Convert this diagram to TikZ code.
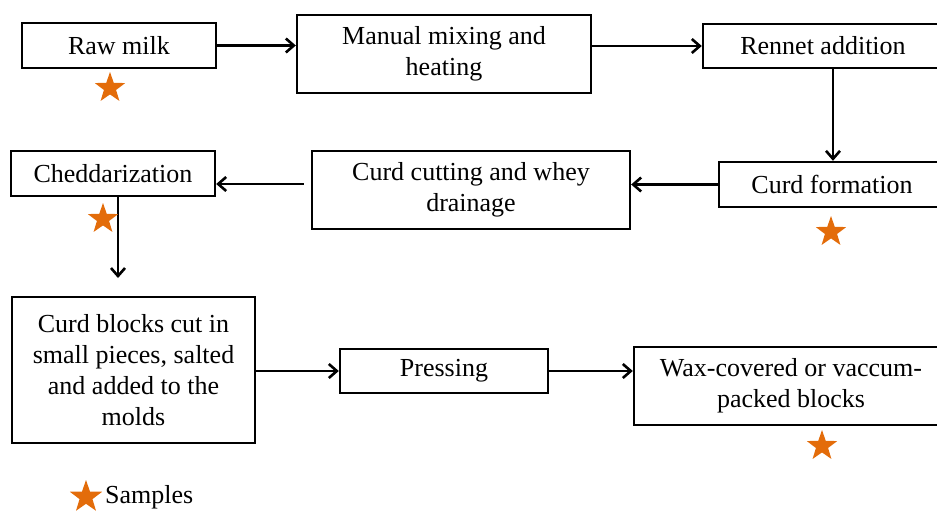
\documentclass[tikz,border=0pt]{standalone}
\usepackage{fontspec}
\setmainfont{Liberation Serif}
\usetikzlibrary{positioning,arrows.meta,shapes.geometric}
\definecolor{starorange}{HTML}{E36C0A}
\tikzset{
  stepbox/.style={draw, line width=2.4pt, align=center, inner sep=2pt,
    font=\fontsize{26}{31}\selectfont},
  flow/.style={line width=2.3pt, -{Straight Barb[length=8pt,width=14pt,line width=2.6pt]}},
  sample/.style={star, star points=5, star point ratio=2.5, fill=starorange,
    inner sep=0pt, minimum size=32pt}
}
\begin{document}
\begin{tikzpicture}[x=1pt,y=-1pt]
\useasboundingbox (0,0) rectangle (937,512);
%% top row
\node[stepbox, minimum width=194pt, minimum height=45pt] (raw) at (119,45.5) {Raw milk};
\node[stepbox, minimum width=294pt, minimum height=78pt] (mixing) at (444,54) {Manual mixing and\\heating};
\node[stepbox, minimum width=240pt, minimum height=44pt] (rennet) at (823,46) {Rennet addition};
%% middle row
\node[stepbox, minimum width=226pt, minimum height=45pt] (curdform) at (832,184.5) {Curd formation};
\node[stepbox, minimum width=318pt, minimum height=78pt] (cutting) at (471,190) {Curd cutting and whey\\drainage};
\node[stepbox, minimum width=204pt, minimum height=45pt] (chedd) at (113,173.5) {Cheddarization};
%% bottom row
\node[stepbox, minimum width=243pt, minimum height=146pt] (blocks) at (133.5,370) {Curd blocks cut in\\small pieces, salted\\and added to the\\molds};
\node[stepbox, minimum width=208pt, minimum height=44pt] (pressing) at (444,371) {Pressing};
\node[stepbox, minimum width=314pt, minimum height=78pt] (wax) at (791,386) {Wax-covered or vaccum-\\packed blocks};
%%% arrows
\draw[flow] (raw.east) -- (raw.east -| mixing.west);
\draw[flow] (mixing.east |- rennet.west) -- (rennet.west);
\draw[flow] ([xshift=10pt]rennet.south) -- ([xshift=10pt]rennet.south |- curdform.north);
\draw[flow] (curdform.west) -- (curdform.west -| cutting.east);
\draw[flow] ([xshift=-7pt,yshift=6pt]cutting.west) -- ([yshift=6pt]cutting.west -| chedd.east);
\coordinate (cheddend) at (118,278);
\draw[flow] (chedd.south -| cheddend) -- (cheddend);
\draw[flow] (blocks.east |- pressing.west) -- (pressing.west);
\draw[flow] (pressing.east) -- (pressing.east -| wax.west);
%%% sample stars
\node[sample] (s1) at (110,88) {};
\node[sample] (s2) at (103,219) {};
\node[sample] (s3) at (831,232) {};
\node[sample] (s4) at (822,446) {};
%% legend
\node[sample, minimum size=34pt] (legstar) at (86,497) {};
\node[anchor=west, inner sep=0pt, font=\fontsize{26}{31}\selectfont] (legtext) at (105,497) {Samples};
\end{tikzpicture}
\end{document}
